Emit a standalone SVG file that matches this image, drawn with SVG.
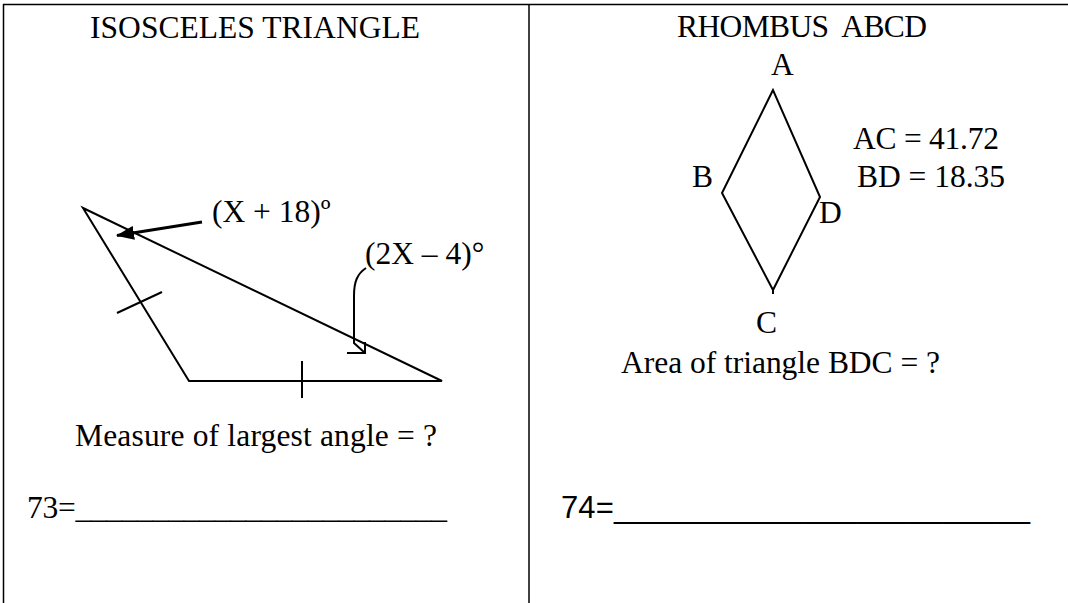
<svg xmlns="http://www.w3.org/2000/svg" width="1068" height="603" viewBox="0 0 1068 603">
<style>
.t{font-family:"Liberation Serif","Times New Roman",serif;font-size:31.5px;fill:#000;white-space:pre}
.s{font-family:"Liberation Sans",Arial,sans-serif;font-size:31px;fill:#000;white-space:pre}
.ln{stroke:#000;stroke-width:2;fill:none}
.bd{stroke:#000;stroke-width:1.5;fill:none}
</style>
<defs>
<marker id="ah" viewBox="0 0 18 14" refX="17" refY="7" markerWidth="18" markerHeight="14" markerUnits="userSpaceOnUse" orient="auto">
<path d="M0,0 L18,7 L0,14 Z" fill="#000"/>
</marker>
</defs>
<g id="frame">
<line class="bd" x1="3" y1="4.5" x2="1068" y2="4.5"/>
<line class="bd" x1="3.5" y1="4" x2="3.5" y2="603"/>
<line class="bd" x1="529" y1="4" x2="529" y2="603"/>
</g>
<g id="left-panel">
<text class="t" x="90" y="38" textLength="330">ISOSCELES TRIANGLE</text>
<g id="triangle">
<polygon class="ln" points="83,208 189,381 442,381"/>
<line class="ln" x1="117" y1="313" x2="162" y2="292"/>
<line class="ln" x1="302" y1="361" x2="302" y2="398"/>
</g>
<g id="label-x18">
<text class="t" x="212" y="222">(X + 18)º</text>
</g>
<g id="label-2x4">
<text class="t" x="365" y="264">(2X – 4)°</text>
</g>
<text class="t" x="75" y="446" textLength="362">Measure of largest angle = ?</text>
<text class="t" x="27" y="518" textLength="420">73=________________________</text>
</g>
<g id="right-panel">
<text class="t" x="677" y="37" textLength="250">RHOMBUS  ABCD</text>
<g id="rhombus">
<polygon class="ln" points="773,90 722,193 773,290 820,197"/>
<line class="ln" x1="773" y1="290" x2="773" y2="294"/>
</g>
<text class="t" x="771" y="75">A</text>
<text class="t" x="692" y="187">B</text>
<text class="t" x="819" y="223">D</text>
<text class="t" x="756" y="333">C</text>
<text class="t" x="853" y="149" textLength="146">AC = 41.72</text>
<text class="t" x="857" y="187" textLength="148">BD = 18.35</text>
<text class="t" x="621" y="373" textLength="319">Area of triangle BDC = ?</text>
<text class="s" x="561" y="518" textLength="469">74=________________________</text>
</g>
<g id="connectors">
<line x1="202" y1="222" x2="117" y2="235.5" stroke="#000" stroke-width="3" marker-end="url(#ah)"/>
<path class="ln" d="M366,268 C357,274 354,282 354,296 L354,343 L365,353"/>
<path class="ln" d="M347,353 L365,353 L365,342"/>
</g>
</svg>
